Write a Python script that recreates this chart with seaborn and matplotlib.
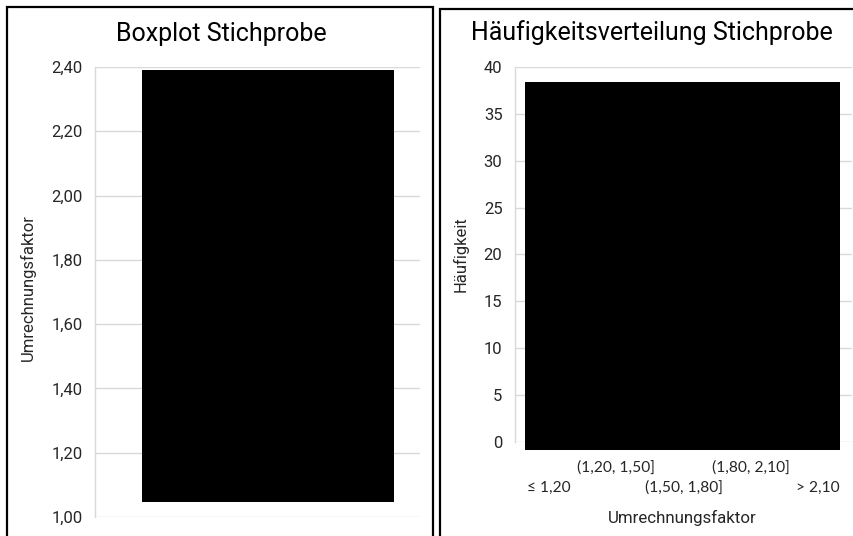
import matplotlib
matplotlib.use("Agg")
import matplotlib.pyplot as plt
from matplotlib.patches import Rectangle
from matplotlib.ticker import FixedLocator, FixedFormatter, FuncFormatter
import seaborn as sns

# --- data -------------------------------------------------------------
box_title = "Boxplot Stichprobe"
hist_title = "Häufigkeitsverteilung Stichprobe"
value_label = "Umrechnungsfaktor"
count_label = "Häufigkeit"

box_yticks = [1.00, 1.20, 1.40, 1.60, 1.80, 2.00, 2.20, 2.40]
hist_yticks = [0, 5, 10, 15, 20, 25, 30, 35, 40]
classes = ["≤ 1,20", "(1,20, 1,50]", "(1,50, 1,80]", "(1,80, 2,10]", "> 2,10"]

# blacked-out regions covering the plotted data (data units)
box_mask_x = [0.145, 0.92]
box_mask_y = [1.048, 2.39]
hist_mask_x = [-0.35, 4.32]
hist_mask_y = [-0.9, 38.4]

# --- style ------------------------------------------------------------
sns.set_theme(style="white")
plt.rcParams["font.family"] = ["Roboto", "DejaVu Sans"]
GRID = "#d9d9d9"
TXT = "#262626"

fig = plt.figure(figsize=(8.54, 5.36), dpi=100)
W, H = 854, 536


def place(x0, y0, x1, y1):
    return [x0 / W, 1 - y1 / H, (x1 - x0) / W, (y1 - y0) / H]


def comma(fmt):
    return FuncFormatter(lambda v, _: format(v, fmt).replace(".", ","))


def style_axes(ax):
    sns.despine(ax=ax, top=True, right=True, bottom=True, left=False)
    ax.spines["left"].set_color(GRID)
    ax.spines["left"].set_linewidth(1.0)
    ax.grid(axis="y", color=GRID, linewidth=1.0)
    ax.grid(axis="x", visible=False)
    ax.set_axisbelow(True)
    ax.tick_params(axis="y", length=0, pad=9, labelsize=12, labelcolor=TXT)
    ax.set_facecolor("white")


# --- box plot panel ---------------------------------------------------
ax1 = fig.add_axes(place(95, 67, 420, 517))
style_axes(ax1)
ax1.set_ylim(box_yticks[0], box_yticks[-1])
ax1.set_xlim(0, 1)
ax1.yaxis.set_major_locator(FixedLocator(box_yticks))
ax1.yaxis.set_major_formatter(comma(".2f"))
ax1.set_xticks([])
ax1.add_patch(Rectangle((box_mask_x[0], box_mask_y[0]),
                        box_mask_x[1] - box_mask_x[0],
                        box_mask_y[1] - box_mask_y[0],
                        facecolor="black", edgecolor="none", zorder=3,
                        clip_on=False))
ax1.set_ylabel(value_label, fontsize=12, color=TXT)
ax1.yaxis.set_label_coords(-0.182, 0.51)

# --- histogram panel --------------------------------------------------
ax2 = fig.add_axes(place(515, 67, 852, 441.7))
style_axes(ax2)
ax2.set_ylim(hist_yticks[0], hist_yticks[-1])
ax2.set_xlim(-0.5, len(classes) - 0.5)
ax2.yaxis.set_major_locator(FixedLocator(hist_yticks))
ax2.yaxis.set_major_formatter(FuncFormatter(lambda v, _: f"{v:.0f}"))
ax2.add_patch(Rectangle((hist_mask_x[0], hist_mask_y[0]),
                        hist_mask_x[1] - hist_mask_x[0],
                        hist_mask_y[1] - hist_mask_y[0],
                        facecolor="black", edgecolor="none", zorder=3,
                        clip_on=False))

# staggered category labels: even classes on the lower row (major ticks),
# odd classes on the upper row (minor ticks)
lower_pos = list(range(0, len(classes), 2))
upper_pos = list(range(1, len(classes), 2))
ax2.xaxis.set_major_locator(FixedLocator(lower_pos))
ax2.xaxis.set_major_formatter(FixedFormatter([classes[i] for i in lower_pos]))
ax2.xaxis.set_minor_locator(FixedLocator(upper_pos))
ax2.xaxis.set_minor_formatter(FixedFormatter([classes[i] for i in upper_pos]))
ax2.tick_params(axis="x", which="major", length=0, pad=28,
                labelsize=11.2, labelcolor=TXT)
ax2.tick_params(axis="x", which="minor", length=0, pad=13.5,
                labelsize=11.2, labelcolor=TXT)
for lab in ax2.get_xticklabels(which="both"):
    lab.set_family(["Lato", "DejaVu Sans"])

ax2.set_ylabel(count_label, fontsize=12, color=TXT)
ax2.yaxis.set_label_coords(-0.139, 0.5)
ax2.set_xlabel(value_label, fontsize=12.2, color=TXT, va="center")
ax2.xaxis.set_label_coords(0.497, -0.2035)

# --- titles -----------------------------------------------------------
fig.text(221 / W, 1 - 34 / H, box_title, ha="center", va="center",
         fontsize=18, color="black")
fig.text(651.5 / W, 1 - 33 / H, hist_title, ha="center", va="center",
         fontsize=18, color="black")

# --- panel frames -----------------------------------------------------
fig.add_artist(Rectangle((7 / W, -0.05), (433 - 7) / W, 1 - 7 / H + 0.05,
                         transform=fig.transFigure, fill=False,
                         edgecolor="black", linewidth=1.6))
fig.add_artist(Rectangle((440 / W, -0.05), 0.6, 1 - 8.5 / H + 0.05,
                         transform=fig.transFigure, fill=False,
                         edgecolor="black", linewidth=1.6))

fig.savefig("out.png", dpi=100, facecolor="white")
